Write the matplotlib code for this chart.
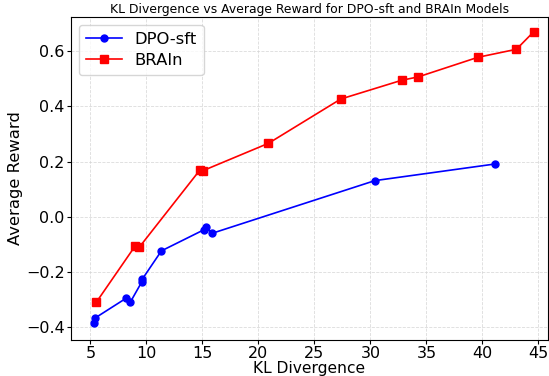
import matplotlib
matplotlib.use("Agg")
import matplotlib.pyplot as plt

# valeurs
dpo_kl = [5.3, 5.45, 8.2, 8.57, 9.59, 9.62, 11.34, 15.12, 15.3, 15.83, 30.4, 41.1]
dpo_reward = [-0.385, -0.365, -0.294, -0.308, -0.235, -0.226, -0.123, -0.047, -0.035, -0.060, 0.131, 0.191]

brain_kl = [5.54, 9.0, 9.36, 14.75, 15.05, 20.9, 27.35, 32.8, 34.26, 39.6, 43.04, 44.6]
brain_reward = [-0.308, -0.105, -0.110, 0.168, 0.167, 0.266, 0.426, 0.494, 0.506, 0.577, 0.606, 0.670]

fig = plt.figure(figsize=(5.49, 3.76), dpi=100)
ax = fig.add_axes([0.129, 0.096, 0.869, 0.859])

ax.plot(dpo_kl, dpo_reward, 'b-o', markersize=5, linewidth=1.2, label='DPO-sft')
ax.plot(brain_kl, brain_reward, 'r-s', markersize=5.5, linewidth=1.2, label='BRAIn')

ax.set_xlim(3.25, 45.85)
ax.set_ylim(-0.445, 0.723)
ax.set_xticks(range(5, 50, 5))
ax.set_yticks([-0.4, -0.2, 0.0, 0.2, 0.4, 0.6])
ax.tick_params(labelsize=11.5, pad=1.5, length=3)

ax.set_title("KL Divergence vs Average Reward for DPO-sft and BRAIn Models", fontsize=8.9, pad=3)
ax.set_xlabel("KL Divergence", fontsize=11.2, labelpad=0)
ax.set_ylabel("Average Reward", fontsize=11.8, labelpad=2)
ax.grid(True, linestyle='--', color='lightgray', linewidth=0.6, alpha=0.8)
ax.legend(fontsize=11.8, loc='upper left', borderpad=0.4, handlelength=2.2, labelspacing=0.4)

fig.savefig("out.png", dpi=100)
